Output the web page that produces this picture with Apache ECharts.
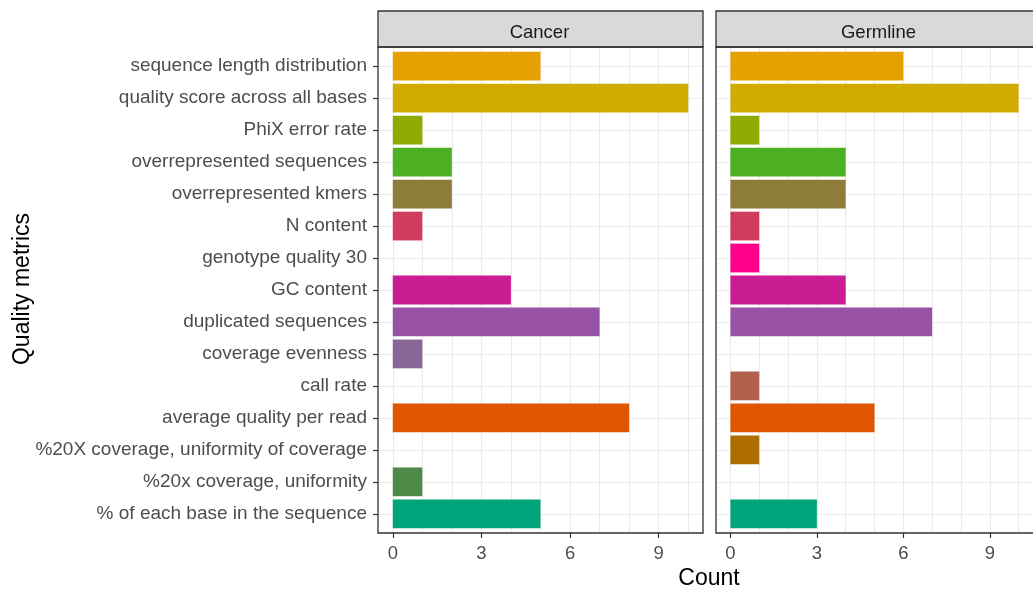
<!DOCTYPE html>
<html>
<head>
<meta charset="utf-8">
<style>html,body{margin:0;padding:0;background:#fff;}#chart{width:1033px;height:592px;}</style>
<script src="https://cdn.jsdelivr.net/npm/echarts@6/dist/echarts.min.js"></script>
</head>
<body>
<div id="chart"></div>
<script>
// ---- data ----
const categories = [
  "sequence length distribution",
  "quality score across all bases",
  "PhiX error rate",
  "overrepresented sequences",
  "overrepresented kmers",
  "N content",
  "genotype quality 30",
  "GC content",
  "duplicated sequences",
  "coverage evenness",
  "call rate",
  "average quality per read",
  "%20X coverage, uniformity of coverage",
  "%20x coverage, uniformity",
  "% of each base in the sequence"
];
const cancerCounts   = [5, 10, 1, 2, 2, 1, null, 4, 7, 1, null, 8, null, 1, 5];
const germlineCounts = [6, 10, 1, 4, 4, 1, 1, 4, 7, null, 1, 5, 1, null, 3];
const barColors = [
  "#E5A100", "#D0AC00", "#8FAA00", "#4DAF22", "#8E7C3B",
  "#D03C5E", "#FF008C", "#CB1D93", "#9853A7", "#8A6697",
  "#B3614F", "#E05500", "#AE6D00", "#4F8A48", "#00A47A"
];
const panels = ["Cancer", "Germline"];
const xTickLabels = [0, 3, 6, 9];
const xTitle = "Count";
const yTitle = "Quality metrics";

// ---- layout ----
const FONT = "'Liberation Sans', Arial, sans-serif";
const panelTop = 47, panelH = 486, stripTop = 11;
const panelLeft = [378, 716], panelW = [325, 327];
const unit = panelH / 15.2;
const barTop = panelTop + 0.1 * unit, barH = 15 * unit;
const bottomGap = (panelTop + panelH) - (barTop + barH);

const grids = [], xAxes = [], yAxes = [], series = [], graphics = [];
const counts = [cancerCounts, germlineCounts];

panels.forEach((p, i) => {
  // frame grid (gridlines only)
  grids.push({left: panelLeft[i], top: panelTop, width: panelW[i], height: panelH, containLabel: false});
  xAxes.push({
    type: 'value', gridIndex: 2 * i, min: -0.5, max: 10.5, minInterval: 1, maxInterval: 1,
    axisLine: {show: false, onZero: false}, axisTick: {show: false}, axisLabel: {show: false},
    splitLine: {show: true, showMinLine: false, showMaxLine: false, lineStyle: {color: '#ebebeb', width: 1.2}}
  });
  yAxes.push({
    type: 'value', gridIndex: 2 * i, min: -0.6, max: 14.6, inverse: true, minInterval: 1, maxInterval: 1,
    axisLine: {show: false, onZero: false}, axisTick: {show: false}, axisLabel: {show: false},
    splitLine: {show: true, showMinLine: false, showMaxLine: false, lineStyle: {color: '#ebebeb', width: 1.2}}
  });
  // bar grid (bars, ticks, labels)
  grids.push({left: panelLeft[i], top: barTop, width: panelW[i], height: barH, containLabel: false});
  xAxes.push({
    type: 'value', gridIndex: 2 * i + 1, min: -0.5, max: 10.5, position: 'bottom', offset: bottomGap,
    axisLine: {show: false, onZero: false},
    axisTick: {show: true, customValues: xTickLabels, length: 5, lineStyle: {color: '#333', width: 1.2}},
    axisLabel: {show: true, customValues: xTickLabels, margin: 11, color: '#4d4d4d', fontSize: 18.5, fontFamily: FONT},
    splitLine: {show: false}
  });
  yAxes.push({
    type: 'category', gridIndex: 2 * i + 1, data: categories, inverse: true, position: 'left',
    axisLine: {show: false, onZero: false},
    axisTick: {show: i === 0, alignWithLabel: true, length: 5, lineStyle: {color: '#333', width: 1.2}},
    axisLabel: {show: i === 0, margin: 11, color: '#4d4d4d', fontSize: 19, fontFamily: FONT, padding: [8, 0, 0, 0]},
    splitLine: {show: false}
  });
  series.push({
    type: 'bar', xAxisIndex: 2 * i + 1, yAxisIndex: 2 * i + 1, barWidth: '90%',
    data: counts[i].map((v, k) => ({value: v, itemStyle: {color: barColors[k]}})),
    silent: true
  });
  // strip
  graphics.push({
    type: 'rect', z: 100,
    shape: {x: panelLeft[i], y: stripTop, width: panelW[i], height: panelTop - stripTop},
    style: {fill: '#d9d9d9', stroke: '#333', lineWidth: 1.3}
  });
  graphics.push({
    type: 'text', z: 101, x: panelLeft[i] + panelW[i] / 2 - 1, y: (stripTop + panelTop) / 2 + 3.5,
    style: {text: p, fill: '#1a1a1a', font: '18.5px ' + FONT, align: 'center', verticalAlign: 'middle'}
  });
  // panel border
  graphics.push({
    type: 'rect', z: 100,
    shape: {x: panelLeft[i], y: panelTop, width: panelW[i], height: panelH},
    style: {fill: 'none', stroke: '#333', lineWidth: 1.3}
  });
});

graphics.push({
  type: 'text', z: 101, x: 709, y: 579,
  style: {text: xTitle, fill: '#000', font: '23px ' + FONT, align: 'center', verticalAlign: 'middle'}
});
graphics.push({
  type: 'text', z: 101, x: 23, y: 289, rotation: Math.PI / 2,
  style: {text: yTitle, fill: '#000', font: '23px ' + FONT, align: 'center', verticalAlign: 'middle'}
});

const chart = echarts.init(document.getElementById('chart'), null, {renderer: 'canvas'});
chart.setOption({
  animation: false,
  backgroundColor: '#fff',
  grid: grids, xAxis: xAxes, yAxis: yAxes, series: series, graphic: graphics
});
</script>
</body>
</html>
